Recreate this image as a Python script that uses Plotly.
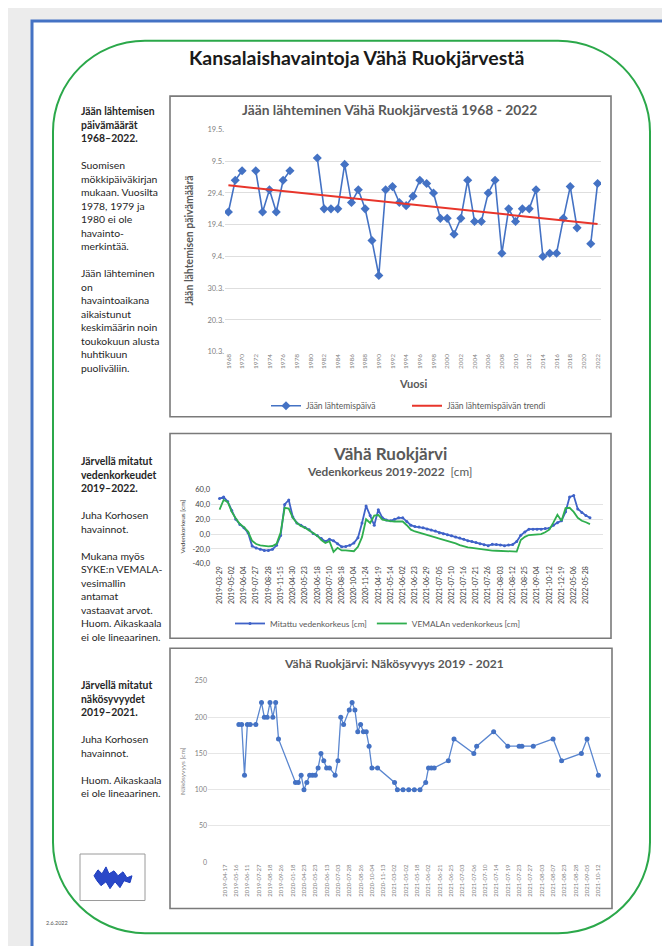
import plotly.graph_objects as go

# ---------------- data ----------------
years = list(range(1968, 2023))
ice_out_doy = [113, 123, 126, None, 126, 113, 120, 113, 123, 126,
               None, None, None, 130, 114, 114, 114, 128, 116, 120,
               114, 104, 93, 120, 121, 116, 115, 118, 123, 122,
               119, 111, 111, 106, 111, 123, 110, 110, 119, 123,
               100, 114, 110, 114, 114, 120, 99, 100, 100, 111,
               121, 108, None, 103, 122]
trend_years = [1968, 2022]
trend_doy = [121.4, 109.2]
y1_tick_doy = [69, 79, 89, 99, 109, 119, 129, 139]
y1_tick_text = ["10.3.", "20.3.", "30.3.", "9.4.", "19.4.", "29.4.", "9.5.", "19.5."]

level_dates = ["2019-03-29", "2019-05-02", "2019-06-04", "2019-07-27", "2019-08-28", "2019-11-15",
               "2020-04-30", "2020-05-23", "2020-06-18", "2020-07-10", "2020-08-18", "2020-10-04",
               "2020-11-24", "2021-04-19", "2021-05-14", "2021-06-02", "2021-06-23", "2021-06-29",
               "2021-07-05", "2021-07-10", "2021-07-16", "2021-07-21", "2021-07-26", "2021-08-03",
               "2021-08-12", "2021-08-25", "2021-09-04", "2021-10-12", "2021-12-19", "2022-05-06",
               "2022-05-28"]
level_measured = [48, 50, 44, 32, 20, 13, 8.5, 2, -16, -18.7,
                  -20.5, -22, -22, -20.5, -15, -2, 40, 46, 23, 15,
                  12, 9, 6, 1, -2, -6, -10, -7, -9, -13,
                  -17, -16.5, -15, -12, -5, 15, 38, 25, 12, 33,
                  22, 19, 18, 20, 22, 22, 17, 12, 10.2, 9.5,
                  8.5, 7, 5.5, 4.3, 2, 0.5, -0.8, -2.3, -3.8, -5.2,
                  -7, -8.8, -10, -11.3, -12.8, -14.2, -15.5, -13.8, -14, -14.5,
                  -15.5, -14.5, -14, -10, -1.5, 3, 6.7, 6.7, 6.7, 6.7,
                  7.5, 8, 12, 15.5, 18, 30, 50, 52, 34, 29,
                  25, 22]
level_vemala = [33, 46, 43.5, 30, 21, 13.6, 9.5, 3.5, -9, -13.3,
                -15, -16, -16.4, -16, -13, 2, 35.5, 34.5, 22, 15,
                11, 8.5, 5, 2, -2, -8, -12, -9.5, -24, -18.5,
                -22, -22, -22, -23, -17, -4, 20, 15, 25, 25.8,
                19.5, 18, 17.5, 17, 17.5, 17, 12, 6, 3.6, 1.8,
                0.5, -1.8, -3.3, -4.5, -6, -7.5, -8.8, -10.5, -12.5, -14.8,
                -16.4, -17.8, -18.5, -19.3, -20.5, -21.5, -22.2, -22.2, -22.4, -22.8,
                -23.2, -23.5, -23.5, -23.5, -8, -3.6, -1.2, -0.7, -0.3, 0,
                2.5, 6, 15.5, 26, 18, 35, 35.5, 30, 22, 18,
                16, 13.5]
level_ticks = [-40, -20, 0, 20, 40, 60]

secchi_dates = ["2019-04-17", "2019-05-16", "2019-06-11", "2019-07-27", "2019-08-18", "2019-09-26",
                "2020-01-18", "2020-04-23", "2020-05-23", "2020-06-13", "2020-07-03", "2020-07-28",
                "2020-08-26", "2020-10-04", "2020-11-13", "2021-03-02", "2021-05-02", "2021-05-18",
                "2021-06-02", "2021-06-21", "2021-06-25", "2021-07-03", "2021-07-06", "2021-07-10",
                "2021-07-14", "2021-07-19", "2021-07-23", "2021-07-27", "2021-08-03", "2021-08-07",
                "2021-08-23", "2021-08-28", "2021-09-05", "2021-10-12"]
secchi_row = [5, 6, 7, 8, 9, 11, 13, 14, 15, 16, 17, 18, 19, 25, 26, 27, 28, 29, 30, 31,
              32, 33, 34, 35, 36, 37, 39, 40, 41, 42, 44, 45, 46, 47, 48, 49, 50, 51, 52, 54,
              60, 61, 63, 65, 67, 69, 71, 72, 73, 74, 79, 81, 88, 89, 95, 100, 104, 105, 109, 116,
              119, 126, 128, 132]
secchi_cm = [190, 190, 120, 190, 190, 190, 220, 200, 200, 220, 200, 220, 170, 110, 110, 120, 100, 110, 120, 120,
             120, 130, 150, 140, 130, 130, 120, 140, 200, 190, 210, 220, 210, 180, 190, 180, 180, 160, 130, 130,
             110, 100, 100, 100, 100, 100, 110, 130, 130, 130, 140, 170, 150, 160, 180, 160, 160, 160, 160, 170,
             140, 150, 170, 120]

# ---------------- helpers ----------------
W, H = 670, 946
def X(px): return px / W
def Y(py): return 1 - py / H

FONT = "Lato, 'Open Sans', sans-serif"
GREY = "#595959"
LGREY = "#7f7f7f"
BLUE = "#4472C4"

fig = go.Figure()

# chart 1
fig.add_trace(go.Scatter(x=years, y=ice_out_doy, mode="lines+markers", name="Jään lähtemispäivä",
                         line=dict(color=BLUE, width=1.6),
                         marker=dict(symbol="diamond", size=7, color=BLUE),
                         connectgaps=False, xaxis="x", yaxis="y", legend="legend"))
fig.add_trace(go.Scatter(x=trend_years, y=trend_doy, mode="lines", name="Jään lähtemispäivän trendi",
                         line=dict(color="#E8352B", width=2), xaxis="x", yaxis="y", legend="legend"))

# chart 2
obs = list(range(len(level_measured)))
fig.add_trace(go.Scatter(x=obs, y=level_measured, mode="lines+markers", name="Mitattu vedenkorkeus [cm]",
                         line=dict(color="#3F62C8", width=1.8), marker=dict(size=3, color="#3F62C8"),
                         xaxis="x2", yaxis="y2", legend="legend2"))
fig.add_trace(go.Scatter(x=obs, y=level_vemala, mode="lines", name="VEMALAn vedenkorkeus [cm]",
                         line=dict(color="#2FAE4E", width=1.8),
                         xaxis="x2", yaxis="y2", legend="legend2"))

# chart 3
fig.add_trace(go.Scatter(x=secchi_row, y=secchi_cm, mode="lines+markers", name="Näkösyvyys",
                         line=dict(color="#5A86CF", width=1.3), marker=dict(size=5, color=BLUE),
                         xaxis="x3", yaxis="y3", showlegend=False))

axis_common = dict(zeroline=False, showline=False, ticks="")

fig.update_layout(
    width=W, height=H, margin=dict(l=0, r=0, t=0, b=0),
    paper_bgcolor="#ececec", plot_bgcolor="rgba(0,0,0,0)",
    font=dict(family=FONT, color=GREY),
    xaxis=dict(domain=[X(217), X(593)], range=[1967.5, 2022.5], anchor="y",
               tickmode="array", tickvals=years[::2], ticktext=[str(v) for v in years[::2]],
               tickangle=-90, tickfont=dict(size=6.5, color=LGREY), showgrid=False, **axis_common),
    yaxis=dict(domain=[Y(342.3), Y(117.7)], range=[69, 139], anchor="x",
               tickmode="array", tickvals=y1_tick_doy, ticktext=y1_tick_text,
               tickfont=dict(size=7.5, color=LGREY), gridcolor="#dedede", gridwidth=1, **axis_common),
    xaxis2=dict(domain=[X(203), X(595)], range=[-2.1, 94.2], anchor="y2",
                tickmode="array", tickvals=list(range(0, 3 * len(level_dates), 3)), ticktext=level_dates,
                tickangle=-90, tickfont=dict(size=7, color="#404040"), showgrid=False, **axis_common),
    yaxis2=dict(domain=[Y(556.7), Y(481.7)], range=[-40, 60], anchor="x2",
                tickmode="array", tickvals=level_ticks,
                ticktext=[f"{v:.1f}".replace(".", ",") for v in level_ticks],
                tickfont=dict(size=7.5, color="#404040"), gridcolor="#e3e3e3", gridwidth=1, **axis_common),
    xaxis3=dict(domain=[X(200), X(601.7)], range=[-5.9, 136], anchor="y3",
                tickmode="array", tickvals=list(range(0, 4 * len(secchi_dates), 4)), ticktext=secchi_dates,
                tickangle=-90, tickfont=dict(size=6, color=LGREY), showgrid=False, **axis_common),
    yaxis3=dict(domain=[Y(858.3), Y(675)], range=[0, 250], anchor="x3", dtick=50,
                tickfont=dict(size=7, color=LGREY), gridcolor="#e6e6e6", gridwidth=1, **axis_common),
    legend=dict(orientation="h", x=X(258), xanchor="left", y=Y(397), yanchor="middle",
                font=dict(size=8.5, color=GREY), bgcolor="rgba(0,0,0,0)", itemwidth=30,
                entrywidth=96, entrywidthmode="pixels"),
    legend2=dict(orientation="h", x=X(222), xanchor="left", y=Y(617), yanchor="middle",
                 font=dict(size=8.3, color=GREY), bgcolor="rgba(0,0,0,0)", itemwidth=30),
)

# ---------------- shapes ----------------
shapes = []
shapes.append(dict(type="rect", xref="paper", yref="paper", x0=X(24), x1=X(720), y0=Y(8), y1=Y(990),
                   line=dict(color=BLUE, width=3), fillcolor="white", layer="below"))

def rrect(x0, y0, x1, y1, r):
    k = 0.5523 * r
    pts = [("M", [(x0 + r, y0)]), ("L", [(x1 - r, y0)]),
           ("C", [(x1 - r + k, y0), (x1, y0 + r - k), (x1, y0 + r)]),
           ("L", [(x1, y1 - r)]),
           ("C", [(x1, y1 - r + k), (x1 - r + k, y1), (x1 - r, y1)]),
           ("L", [(x0 + r, y1)]),
           ("C", [(x0 + r - k, y1), (x0, y1 - r + k), (x0, y1 - r)]),
           ("L", [(x0, y0 + r)]),
           ("C", [(x0, y0 + r - k), (x0 + r - k, y0), (x0 + r, y0)])]
    s = ""
    for cmd, ps in pts:
        s += cmd + " " + " ".join(f"{X(a):.5f},{Y(b):.5f}" for a, b in ps) + " "
    return s + "Z"

shapes.append(dict(type="path", xref="paper", yref="paper", path=rrect(45, 28, 642, 930, 92),
                   line=dict(color="#2BA84A", width=2), layer="below"))

for (a, b, c, d) in [(162, 84, 603, 408), (162, 425, 603, 632), (162, 642, 604, 905)]:
    shapes.append(dict(type="rect", xref="paper", yref="paper", x0=X(a), x1=X(c), y0=Y(b), y1=Y(d),
                       line=dict(color="#7a7a7a", width=1.6), fillcolor="white", layer="below"))

# logo
shapes.append(dict(type="rect", xref="paper", yref="paper", x0=X(72), x1=X(137), y0=Y(850), y1=Y(897),
                   line=dict(color="#9a9a9a", width=1), fillcolor="white", layer="below"))
lake = [(86, 872), (90, 866), (94, 870), (98, 863), (101, 870), (106, 867), (110, 872), (115, 868),
        (119, 874), (124, 872), (122, 879), (116, 877), (112, 884), (107, 878), (102, 885), (98, 878),
        (93, 882), (89, 877)]
lake_path = "M " + " L ".join(f"{X(a):.5f},{Y(b):.5f}" for a, b in lake) + " Z"
shapes.append(dict(type="path", xref="paper", yref="paper", path=lake_path,
                   line=dict(color="#1f3fbf", width=1), fillcolor="#2a48c8", layer="below"))
fig.update_layout(shapes=shapes)

# ---------------- text ----------------
ann = []
def txt(t, px, py, size, color=GREY, xanchor="center", yanchor="middle", angle=0, align="center"):
    ann.append(dict(text=t, x=X(px), y=Y(py), xref="paper", yref="paper", showarrow=False,
                    xanchor=xanchor, yanchor=yanchor, textangle=angle, align=align,
                    font=dict(size=size, color=color, family=FONT)))

txt("<b>Kansalaishavaintoja Vähä Ruokjärvestä</b>", 348, 45, 19.5, color="#1a1a1a")

txt("<b>Jään lähteminen Vähä Ruokjärvestä 1968 - 2022</b>", 381, 98, 13.8)
txt("<b>Jään lähtemisen päivämäärä</b>", 181, 230, 10.5, angle=-90)
txt("<b>Vuosi</b>", 405, 374, 11)

txt("<b>Vähä Ruokjärvi</b>", 382, 445, 17)
txt("<b>Vedenkorkeus 2019-2022</b>  [cm]", 381, 463, 11.8)
txt("Vedenkorkeus [cm]", 175, 519, 6.5, color="#404040", angle=-90)

txt("<b>Vähä Ruokjärvi: Näkösyvyys 2019 - 2021</b>", 386, 657, 12)
txt("Näkösyvyys [cm]", 175, 766, 6.5, color=LGREY, angle=-90)

side = "#262626"
txt("<b>Jään lähtemisen<br>päivämäärät<br>1968–2022.</b><br><br>Suomisen<br>mökkipäiväkirjan<br>"
    "mukaan. Vuosilta<br>1978, 1979 ja<br>1980 ei ole<br>havainto-<br>merkintää.<br><br>"
    "Jään lähteminen<br>on<br>havaintoaikana<br>aikaistunut<br>keskimäärin noin<br>"
    "toukokuun alusta<br>huhtikuun<br>puoliväliin.", 71, 91, 10.4, color=side,
    xanchor="left", yanchor="top", align="left")
txt("<b>Järvellä mitatut<br>vedenkorkeudet<br>2019–2022.</b><br><br>Juha Korhosen<br>havainnot.<br><br>"
    "Mukana myös<br>SYKE:n VEMALA-<br>vesimallin<br>antamat<br>vastaavat arvot.<br>"
    "Huom. Aikaskaala<br>ei ole lineaarinen.", 71, 445, 10.4, color=side,
    xanchor="left", yanchor="top", align="left")
txt("<b>Järvellä mitatut<br>näkösyvyydet<br>2019–2021.</b><br><br>Juha Korhosen<br>havainnot.<br><br>"
    "Huom. Aikaskaala<br>ei ole lineaarinen.", 71, 671, 10.4, color=side,
    xanchor="left", yanchor="top", align="left")

txt("2.6.2022", 49, 920, 5.5, color="#555555")

fig.update_layout(annotations=ann)
fig.write_html("out.html")
